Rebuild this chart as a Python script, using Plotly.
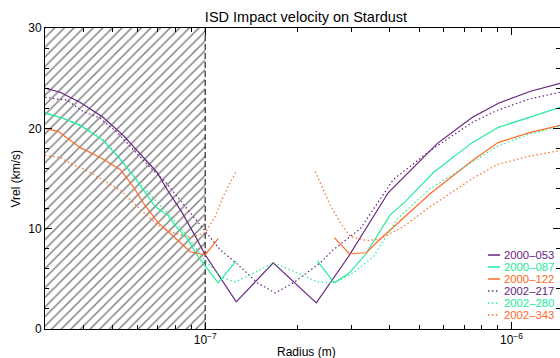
import plotly.graph_objects as go

# ---------------- data ----------------
series_names = ["2000–053", "2000–087", "2000–122", "2002–217", "2002–280", "2002–343"]
series_colors = ["#66237f", "#22ee99", "#ff6a26", "#66237f", "#22ee99", "#ff6a26"]
series_dash = ["solid", "solid", "solid", "1.5px,2.5px", "1.5px,2.5px", "1.5px,2.5px"]

r_053 = [3.0e-8, 3.36e-8, 3.90e-8, 4.64e-8, 5.40e-8, 6.13e-8, 6.97e-8, 7.51e-8, 8.41e-8, 9.42e-8,
         1.0e-7, 1.263e-7, 1.668e-7, 2.305e-7, 2.934e-7, 3.963e-7, 5.73e-7, 7.457e-7, 9.069e-7,
         1.154e-6, 1.446e-6]
v_053 = [24.0, 23.6, 22.6, 21.1, 19.3, 17.5, 15.6, 13.9, 11.6, 8.9,
         7.4, 2.7, 6.6, 2.6, 7.2, 13.6, 18.5, 21.1, 22.5,
         23.7, 24.5]

r_087 = [3.0e-8, 3.36e-8, 3.90e-8, 4.64e-8, 5.005e-8, 5.28e-8, 5.82e-8, 6.27e-8, 6.86e-8, 7.57e-8,
         7.98e-8, 8.73e-8, 9.49e-8, 1.0e-7, 1.103e-7, 1.263e-7, None,
         2.323e-7, 2.640e-7, 2.934e-7, 3.334e-7, 4.023e-7, 4.504e-7, 5.560e-7, 7.457e-7,
         9.069e-7, 1.154e-6, 1.446e-6]
v_087 = [21.5, 21.1, 20.3, 18.8, 17.7, 16.9, 15.3, 13.9, 12.2, 11.3,
         10.3, 9.0, 7.2, 6.3, 4.6, 6.8, None,
         6.8, 4.6, 5.5, 7.4, 11.4, 12.7, 15.6, 18.6,
         20.1, 21.1, 22.1]

r_122 = [3.0e-8, 3.31e-8, 3.90e-8, 4.54e-8, 5.28e-8, 5.82e-8, 6.27e-8, 7.02e-8, 8.10e-8, 8.93e-8,
         1.0e-7, 1.103e-7, None,
         2.640e-7, 2.956e-7, 3.359e-7, 3.676e-7, 5.436e-7, 7.457e-7, 9.069e-7, 1.154e-6, 1.446e-6]
v_122 = [20.0, 19.7, 18.1, 17.1, 15.9, 14.2, 12.6, 10.6, 8.9, 7.7,
         7.4, 9.0, None,
         9.1, 7.5, 7.6, 8.8, 13.5, 16.8, 18.6, 19.6, 20.3]

r_217 = [3.0e-8, 3.54e-8, 3.99e-8, 4.54e-8, 5.16e-8, 6.61e-8, 7.40e-8, 8.10e-8, 8.93e-8, 1.0e-7,
         1.119e-7, 1.282e-7, 1.479e-7, 1.693e-7, 1.939e-7, 2.376e-7, 2.620e-7, 3.210e-7,
         4.115e-7, 5.436e-7, 7.457e-7, 9.0e-7, 1.137e-6, 1.446e-6]
v_217 = [23.1, 22.8, 21.7, 21.0, 19.6, 16.1, 14.7, 13.2, 11.6, 9.7,
         7.9, 6.4, 4.6, 3.6, 4.6, 6.6, 7.9, 10.0,
         14.9, 17.8, 20.6, 21.8, 22.9, 23.6]

r_280 = [3.0e-8, 3.90e-8, 4.64e-8, 5.28e-8, 6.27e-8, 7.57e-8, 8.73e-8, 1.0e-7, 1.137e-7, 1.253e-7,
         1.403e-7, 1.668e-7, 1.998e-7, 2.323e-7, 2.620e-7, 3.046e-7, 3.540e-7, 4.24e-7,
         5.436e-7, 7.457e-7, 9.0e-7, 1.137e-6, 1.446e-6]
v_280 = [21.6, 20.4, 18.9, 17.0, 14.1, 11.5, 9.3, 6.8, 5.1, 4.7,
         5.4, 6.6, 5.6, 4.7, 4.6, 5.6, 7.2, 11.0,
         14.0, 16.6, 18.2, 19.4, 20.2]

r_343 = [3.0e-8, 3.36e-8, 3.70e-8, 4.05e-8, 4.44e-8, 4.89e-8, 5.36e-8, 5.69e-8, 6.04e-8, 6.51e-8,
         7.13e-8, 7.86e-8, 8.93e-8, 1.0e-7, 1.078e-7, 1.145e-7, 1.207e-7, 1.263e-7, None,
         2.288e-7, 2.430e-7, 2.562e-7, 2.762e-7, 2.978e-7, 3.384e-7, 3.731e-7, 4.437e-7,
         5.436e-7, 7.457e-7, 9.0e-7, 1.137e-6, 1.446e-6]
v_343 = [17.3, 17.1, 16.4, 15.9, 15.2, 14.4, 13.7, 12.9, 12.1, 11.2,
         10.2, 9.6, 9.1, 9.6, 11.2, 13.2, 14.6, 15.7, None,
         15.7, 13.9, 12.3, 10.6, 9.2, 8.8, 9.0, 10.2,
         12.2, 15.0, 16.4, 17.2, 17.8]

series_r = [r_053, r_087, r_122, r_217, r_280, r_343]
series_v = [v_053, v_087, v_122, v_217, v_280, v_343]

# shaded (excluded) radius region and axis ranges
shade_r = [3.0e-8, 1.0e-7]
v_range = [0, 30]
x_range_log = [-7.5229, -5.8416]

x_major = [1e-7, 1e-6]
x_major_text = ["10<sup>−7</sup>", "10<sup>−6</sup>"]
x_minor = [3e-8, 4e-8, 5e-8, 6e-8, 7e-8, 8e-8, 9e-8,
           2e-7, 3e-7, 4e-7, 5e-7, 6e-7, 7e-7, 8e-7, 9e-7]
y_major = [0, 10, 20, 30]

FONT = "Liberation Sans, Arial, Helvetica, sans-serif"

fig = go.Figure()

# hatched region
fig.add_trace(go.Scatter(
    x=[shade_r[0], shade_r[1], shade_r[1], shade_r[0], shade_r[0]],
    y=[v_range[0], v_range[0], v_range[1], v_range[1], v_range[0]],
    mode="lines", line=dict(width=0), fill="toself", fillcolor="white",
    fillpattern=dict(shape="/", fgcolor="black", bgcolor="white", size=6.8, solidity=0.22),
    hoverinfo="skip", showlegend=False))

# dashed boundary
fig.add_trace(go.Scatter(
    x=[shade_r[1], shade_r[1]], y=v_range, mode="lines",
    line=dict(color="black", width=1, dash="6px,3px"),
    hoverinfo="skip", showlegend=False))

for name, col, dash, rr, vv in zip(series_names, series_colors, series_dash, series_r, series_v):
    fig.add_trace(go.Scatter(x=rr, y=vv, mode="lines", name=name,
                             line=dict(color=col, width=1.2, dash=dash),
                             connectgaps=False, showlegend=False))

# custom legend (bottom right), in paper coordinates
legend_y0 = 0.2458
legend_dy = 0.0399
for i, (name, col, dash) in enumerate(zip(series_names, series_colors, series_dash)):
    yy = legend_y0 - i * legend_dy
    fig.add_shape(type="line", xref="paper", yref="paper", x0=0.8600, x1=0.8833, y0=yy, y1=yy,
                  line=dict(color=col, width=1.5, dash=dash))
    fig.add_annotation(xref="paper", yref="paper", x=0.8872, y=yy, text=name, showarrow=False,
                       xanchor="left", yanchor="middle",
                       font=dict(family=FONT, size=11.3, color=col))

# axis titles
fig.add_annotation(xref="paper", yref="paper", x=-0.0564, y=0.5, text="Vrel (km/s)",
                   textangle=-90, showarrow=False, xanchor="center", yanchor="middle",
                   font=dict(family=FONT, size=12, color="black"))
fig.add_annotation(xref="paper", yref="paper", x=0.5078, y=-0.0764, text="Radius (m)",
                   showarrow=False, xanchor="center", yanchor="middle",
                   font=dict(family=FONT, size=12, color="black"))

fig.update_layout(
    width=560, height=358,
    margin=dict(l=45, r=0, t=28, b=29, autoexpand=False),
    paper_bgcolor="white", plot_bgcolor="white",
    font=dict(family=FONT, size=12, color="black"),
    showlegend=False,
    title=dict(text="ISD Impact velocity on Stardust", x=306 / 560, xref="container",
               xanchor="center", y=1 - 17 / 358, yref="container", yanchor="middle",
               font=dict(family=FONT, size=14.5, color="black")),
)

fig.update_xaxes(type="log", range=x_range_log, showgrid=False, zeroline=False,
                 showline=True, linecolor="black", linewidth=1, mirror="allticks",
                 ticks="inside", ticklen=7, tickcolor="black", tickwidth=1,
                 tickmode="array", tickvals=x_major, ticktext=x_major_text,
                 tickfont=dict(family=FONT, size=12, color="black"),
                 minor=dict(tickmode="array", tickvals=x_minor, ticks="inside",
                            ticklen=4, tickcolor="black", tickwidth=1, showgrid=False))
fig.update_yaxes(range=v_range, showgrid=False, zeroline=False,
                 showline=True, linecolor="black", linewidth=1, mirror="allticks",
                 ticks="inside", ticklen=7, tickcolor="black", tickwidth=1,
                 tickmode="array", tickvals=y_major,
                 tickfont=dict(family=FONT, size=12, color="black"),
                 minor=dict(dtick=2, ticks="inside", ticklen=4, tickcolor="black",
                            tickwidth=1, showgrid=False))

fig.write_html("out.html", config={"displayModeBar": False},
               post_script="document.body.style.margin='0';document.body.style.overflow='hidden';")
